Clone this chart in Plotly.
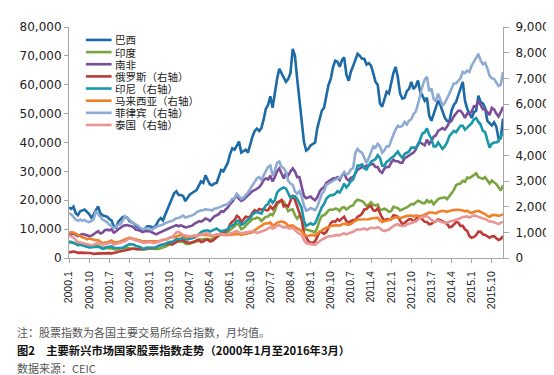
import plotly.graph_objects as go

# ---------------- data (monthly averages, 2000.1 - 2016.3) ----------------
years = list(range(2000, 2017))
tick_labels = ["2000.1", "2000.10", "2001.7", "2002.4", "2003.1", "2003.10", "2004.7",
               "2005.4", "2006.1", "2006.10", "2007.7", "2008.4", "2009.1", "2009.10",
               "2010.7", "2011.4", "2012.1", "2012.10", "2013.7", "2014.4", "2015.1", "2015.10"]

brazil = [
    17500, 17000, 17800, 15500, 14800, 16200, 16500, 16800, 16000, 15200, 14000, 15000,
    16500, 17900, 15500, 14800, 14500, 14300, 13500, 13000, 11000, 10500, 12500, 13300,
    14200, 14000, 14000, 12800, 12500, 12000, 11000, 10600, 9800, 9200, 10300, 11000,
    11000, 10700, 10500, 11500, 13000, 13800, 13000, 15000, 17000, 19000, 21000, 22400,
    23100, 21800, 21800, 21500, 19700, 21000, 22000, 22500, 23000, 23500, 25000, 26500,
    26000, 28600, 27000, 25500, 25200, 25800, 26000, 28000, 30500, 30000, 31500, 33000,
    36000, 38000, 37500, 39000, 40300, 36500, 36900, 37500, 36500, 39500, 42000, 44000,
    44800, 44000, 45000, 48000, 51700, 53000, 56000, 52000, 57600, 62000, 65500, 64000,
    62800, 61000, 62000, 64000, 72400, 70000, 62000, 55000, 48000, 40300, 37200, 37800,
    39000, 39500, 40000, 45000, 48300, 51000, 52000, 56000, 60000, 62000, 66000, 68300,
    68000, 66200, 68500, 69500, 63500, 61400, 64500, 66500, 68500, 70700, 70000, 69000,
    69000, 67000, 67500, 66600, 64000, 61000, 60000, 53500, 52400, 55000, 57600, 57000,
    61000, 64000, 66200, 62500, 57000, 55200, 55500, 57800, 58600, 61000, 58500, 59500,
    61500, 57500, 56200, 54500, 55500, 49300, 47500, 50000, 52800, 54500, 53000, 51000,
    48500, 47500, 47200, 51000, 53000, 54000, 56500, 58500, 61000, 54500, 51700, 50000,
    48500, 50500, 51000, 56200, 54000, 53500, 52000, 47500, 46500, 45900, 47000, 45500,
    41400, 41500, 48300]

india = [
    5300, 5600, 5300, 4800, 4500, 4900, 4800, 4500, 4400, 3900, 3800, 4100,
    4100, 4300, 3800, 3500, 3600, 3400, 3300, 3300, 3000, 2900, 3200, 3300,
    3300, 3500, 3600, 3400, 3300, 3300, 3100, 3000, 3000, 2950, 3000, 3200,
    3300, 3200, 3100, 3000, 3100, 3400, 3600, 4000, 4200, 4700, 5000, 5600,
    5900, 5800, 5600, 5800, 5000, 4800, 5000, 5200, 5500, 5800, 6000, 6400,
    6500, 6600, 6600, 6300, 6500, 6900, 7400, 7700, 8300, 8000, 8500, 9100,
    9700, 10200, 11000, 11900, 11500, 10000, 10300, 11200, 12000, 12700, 13500, 13600,
    14000, 13800, 12800, 13600, 14300, 14400, 15200, 14800, 16300, 18600, 19200, 19900,
    19500, 17800, 16200, 16700, 16800, 14800, 13600, 14700, 13500, 10500, 9800, 9700,
    9500, 9300, 8900, 10500, 13000, 14600, 14800, 15500, 16500, 16800, 16700, 17100,
    17000, 16300, 17400, 17600, 16800, 17400, 18000, 18200, 19500, 20200, 20000, 19700,
    19000, 18000, 18500, 19300, 18400, 18200, 18500, 16700, 16800, 17100, 16700, 16000,
    16200, 17700, 17500, 17300, 16500, 16800, 17200, 17500, 18100, 18700, 18600, 19300,
    19800, 19500, 19000, 19000, 20000, 19300, 19800, 18600, 19700, 20400, 20700, 20900,
    21000, 20400, 21600, 22400, 23500, 25200, 25600, 25800, 26700, 26400, 27900, 27700,
    28200, 28900, 29300, 28000, 27600, 27400, 28000, 27000, 25800, 26800, 26200, 25600,
    24500, 23400, 25200]

south_africa = [
    7900, 8300, 8500, 8000, 7600, 8000, 8300, 8100, 7800, 7600, 7700, 8200,
    8700, 9300, 8500, 8800, 9600, 9800, 9600, 9900, 8800, 9200, 9900, 10600,
    11000, 11300, 11400, 11200, 11000, 10500, 9800, 9700, 9400, 9000, 9300, 9400,
    9300, 8900, 8400, 8200, 8600, 9000, 9400, 9800, 10000, 10400, 10700, 11000,
    11400, 11000, 11300, 11000, 10600, 10700, 11000, 11200, 11800, 12300, 12700, 12600,
    13000, 13700, 13400, 12800, 13600, 14400, 14800, 15200, 16200, 16000, 16800, 17500,
    18700, 19500, 20700, 21500, 20500, 19800, 20200, 21000, 21700, 22300, 23200, 23500,
    24000, 24500, 25500, 27000, 27600, 27200, 28500, 26500, 28000, 30000, 31000, 29000,
    27500, 29500, 28600, 30000, 31000, 30000, 28000, 28000, 25200, 21500, 20700, 21000,
    21300, 20500, 20000, 21000, 23000, 24000, 24500, 26000, 26600, 27000, 27500, 27600,
    28000, 27000, 28600, 29500, 27500, 26800, 27800, 28000, 29500, 30500, 31000, 31500,
    31500, 32000, 32000, 32500, 32500, 31500, 31500, 30000, 29500, 31000, 31500, 31500,
    33000, 34000, 33500, 33500, 33000, 33000, 34500, 35000, 35500, 36000, 36500, 37500,
    39500, 40000, 39500, 39000, 41000, 39500, 40500, 42000, 42500, 44000, 44500, 45000,
    44500, 45500, 47000, 47500, 49000, 50000, 51000, 51000, 50000, 48500, 50000, 50000,
    50700, 52500, 52500, 54500, 53000, 51500, 51500, 50500, 49500, 52000, 51500, 50000,
    49000, 50500, 52400]

russia = [
    220, 240, 250, 230, 200, 210, 210, 220, 215, 195, 185, 160,
    170, 175, 170, 180, 200, 210, 190, 180, 185, 210, 240, 260,
    290, 300, 320, 360, 380, 370, 340, 340, 360, 340, 370, 370,
    380, 400, 380, 420, 480, 510, 520, 550, 540, 600, 520, 570,
    640, 670, 700, 680, 620, 610, 580, 610, 650, 680, 720, 620,
    640, 700, 710, 650, 660, 730, 820, 900, 980, 1010, 1040, 1110,
    1320, 1410, 1480, 1640, 1580, 1390, 1510, 1610, 1590, 1610, 1760, 1860,
    1810, 1910, 1880, 1910, 1860, 1860, 2010, 1910, 2010, 2160, 2210, 2260,
    2010, 2060, 2010, 2210, 2450, 2260, 2010, 1710, 1510, 960, 810, 660,
    590, 590, 650, 810, 1010, 1010, 940, 1010, 1160, 1360, 1430, 1410,
    1510, 1450, 1540, 1610, 1430, 1390, 1440, 1480, 1470, 1610, 1650, 1730,
    1890, 1910, 1990, 2030, 1860, 1840, 1940, 1710, 1560, 1460, 1510, 1490,
    1510, 1660, 1650, 1610, 1440, 1310, 1370, 1440, 1510, 1510, 1410, 1510,
    1610, 1590, 1510, 1410, 1400, 1310, 1330, 1400, 1430, 1500, 1470, 1430,
    1400, 1330, 1200, 1220, 1300, 1400, 1380, 1250, 1250, 1120, 1050, 850,
    790, 820, 890, 1030, 1020, 920, 900, 850, 790, 840, 850, 770,
    700, 740, 860]

indonesia = [
    640, 600, 580, 560, 500, 520, 500, 480, 430, 410, 420, 420,
    430, 440, 410, 360, 380, 430, 440, 450, 400, 390, 380, 390,
    400, 450, 480, 540, 530, 520, 470, 450, 420, 360, 370, 410,
    400, 400, 390, 420, 480, 500, 510, 530, 600, 630, 620, 670,
    730, 740, 740, 800, 720, 720, 740, 760, 800, 840, 930, 1000,
    1050, 1080, 1080, 1030, 1060, 1120, 1150, 1080, 1050, 1060, 1080, 1120,
    1250, 1260, 1320, 1450, 1430, 1300, 1330, 1430, 1500, 1560, 1700, 1760,
    1790, 1760, 1730, 1900, 2050, 2100, 2300, 2150, 2250, 2550, 2650, 2700,
    2750, 2700, 2500, 2350, 2400, 2400, 2300, 2150, 1950, 1450, 1250, 1300,
    1350, 1300, 1350, 1550, 1800, 1980, 2100, 2300, 2400, 2450, 2450, 2500,
    2600, 2550, 2700, 2900, 2750, 2850, 3000, 3050, 3300, 3600, 3600, 3650,
    3500, 3450, 3600, 3750, 3800, 3850, 4000, 3900, 3600, 3600, 3750, 3800,
    3900, 3950, 4050, 4150, 4000, 3900, 4050, 4100, 4150, 4300, 4300, 4300,
    4400, 4650, 4850, 4900, 5050, 4800, 4650, 4350, 4350, 4500, 4350, 4250,
    4350, 4500, 4750, 4850, 4950, 4900, 5050, 5150, 5150, 5000, 5080, 5150,
    5250, 5400, 5450, 5300, 5200, 4950, 4900, 4600, 4300, 4450, 4500, 4500,
    4550, 4750, 4850]

malaysia = [
    980, 1000, 990, 940, 900, 830, 810, 780, 730, 760, 740, 700,
    690, 700, 620, 570, 600, 600, 650, 680, 620, 600, 620, 660,
    690, 710, 760, 790, 770, 740, 710, 700, 670, 650, 650, 650,
    650, 650, 640, 640, 650, 680, 700, 720, 740, 790, 800, 810,
    830, 870, 900, 860, 800, 820, 830, 830, 840, 860, 900, 900,
    920, 920, 910, 870, 860, 880, 920, 910, 920, 910, 890, 900,
    910, 920, 920, 950, 940, 900, 920, 940, 950, 970, 1000, 1080,
    1150, 1200, 1250, 1320, 1350, 1350, 1380, 1270, 1300, 1380, 1400, 1420,
    1400, 1350, 1250, 1250, 1270, 1200, 1150, 1090, 1050, 920, 860, 870,
    880, 900, 870, 950, 1030, 1060, 1140, 1180, 1200, 1250, 1270, 1270,
    1280, 1260, 1310, 1340, 1310, 1290, 1330, 1400, 1450, 1500, 1500, 1500,
    1520, 1510, 1510, 1540, 1540, 1560, 1570, 1460, 1400, 1440, 1460, 1470,
    1520, 1560, 1590, 1580, 1560, 1580, 1620, 1640, 1640, 1660, 1620, 1650,
    1640, 1630, 1650, 1700, 1750, 1770, 1770, 1740, 1740, 1790, 1810, 1840,
    1820, 1800, 1830, 1860, 1870, 1880, 1880, 1870, 1850, 1820, 1840, 1780,
    1760, 1800, 1820, 1840, 1800, 1730, 1710, 1640, 1600, 1670, 1680, 1670,
    1640, 1660, 1700]

philippines = [
    1750, 1700, 1600, 1500, 1450, 1500, 1450, 1480, 1420, 1400, 1440, 1500,
    1820, 1700, 1580, 1500, 1450, 1400, 1300, 1250, 1160, 1200, 1300, 1320,
    1450, 1630, 1560, 1500, 1400, 1350, 1280, 1250, 1160, 1120, 1150, 1160,
    1120, 1100, 1160, 1220, 1250, 1280, 1300, 1360, 1400, 1420, 1440, 1500,
    1550, 1560, 1600, 1650, 1580, 1600, 1630, 1660, 1700, 1780, 1820, 1860,
    1860, 1900, 1880, 1880, 1850, 1920, 1940, 1960, 2000, 2050, 2080, 2100,
    2200, 2300, 2330, 2500, 2400, 2300, 2350, 2450, 2550, 2700, 2850, 3000,
    3100, 3150, 3050, 3220, 3400, 3550, 3600, 3200, 3400, 3700, 3760, 3550,
    3500, 3350, 3000, 2900, 2850, 2600, 2500, 2600, 2400, 2050, 1850, 1880,
    1950, 1900, 1870, 2000, 2300, 2500, 2600, 2850, 2900, 2950, 3000, 3050,
    3100, 3100, 3250, 3350, 3250, 3300, 3450, 3500, 4100, 4250, 4150, 4100,
    3900, 3700, 3900, 4150, 4350, 4300, 4450, 4350, 4100, 4200, 4350, 4350,
    4600, 4800, 5000, 5150, 5100, 5150, 5300, 5200, 5350, 5400, 5600, 5700,
    6000, 6400, 6700, 6950, 7060, 6500, 6600, 6200, 6100, 6400, 6200, 5930,
    6050, 6200, 6400, 6600, 6800, 6800, 6900, 7000, 7250, 7200, 7300, 7250,
    7500, 7650, 7800, 7950, 7700, 7550, 7600, 7400, 7100, 7000, 6980, 6850,
    6700, 6750, 7250]

thailand = [
    880, 850, 800, 700, 620, 600, 580, 560, 540, 520, 500, 520,
    560, 600, 560, 520, 540, 560, 580, 600, 520, 540, 560, 580,
    620, 650, 700, 760, 740, 700, 680, 660, 620, 600, 600, 620,
    620, 600, 580, 600, 620, 660, 700, 720, 740, 800, 820, 880,
    1000, 1020, 960, 900, 880, 860, 850, 860, 880, 860, 880, 900,
    920, 960, 950, 900, 880, 890, 900, 920, 940, 920, 900, 920,
    960, 1000, 1020, 1050, 1000, 960, 980, 1000, 1000, 1020, 1040, 1020,
    980, 1000, 1020, 1060, 1100, 1150, 1200, 1150, 1180, 1260, 1280, 1230,
    1180, 1220, 1160, 1150, 1170, 1100, 1000, 950, 900, 700, 580, 560,
    540, 500, 510, 580, 660, 720, 760, 800, 850, 850, 860, 880,
    900, 880, 940, 960, 920, 960, 980, 1020, 1080, 1120, 1100, 1120,
    1150, 1100, 1130, 1180, 1170, 1160, 1200, 1160, 1080, 1050, 1080, 1100,
    1180, 1250, 1300, 1320, 1260, 1250, 1260, 1300, 1340, 1380, 1400, 1420,
    1500, 1560, 1600, 1620, 1640, 1560, 1500, 1420, 1440, 1460, 1420, 1380,
    1360, 1380, 1420, 1440, 1460, 1480, 1500, 1550, 1600, 1610, 1620, 1580,
    1620, 1660, 1640, 1600, 1560, 1540, 1520, 1460, 1420, 1420, 1400, 1360,
    1320, 1360, 1420]

series_names = ["巴西", "印度", "南非", "俄罗斯（右轴）", "印尼（右轴）",
                "马来西亚（右轴）", "菲律宾（右轴）", "泰国（右轴）"]
series_values = [brazil, india, south_africa, russia, indonesia, malaysia, philippines, thailand]
series_axis = ["y", "y", "y", "y2", "y2", "y2", "y2", "y2"]
series_colors = ["#1c6aa6", "#79a63f", "#7a4e98", "#bf3a37", "#1a97a8",
                 "#f08128", "#8eabd3", "#e79595"]

months = [f"{y}.{m}" for y in years for m in range(1, 13)][:len(brazil)]

# ---------------- figure ----------------
fig = go.Figure()
for name, vals, ax, col in zip(series_names, series_values, series_axis, series_colors):
    fig.add_trace(go.Scatter(x=months, y=vals, name=name, yaxis=ax, mode="lines",
                             line=dict(color=col, width=2.6), showlegend=False))

L, R, T, B = 60, 498, 18, 250
W, H = 554, 375
pw, ph = R - L, B - T

def px(x):
    return (x - L) / pw

def py(y):
    return (B - y) / ph

# custom compact legend
shapes = []
annotations = []
for i, (name, col) in enumerate(zip(series_names, series_colors)):
    yc = 31 + 12.2 * i
    shapes.append(dict(type="line", xref="paper", yref="paper",
                       x0=px(77), x1=px(103), y0=py(yc), y1=py(yc),
                       line=dict(color=col, width=2.6)))
    annotations.append(dict(xref="paper", yref="paper", x=px(105), y=py(yc),
                            text=name, showarrow=False, xanchor="left", yanchor="middle",
                            borderpad=0,
                            font=dict(family="Noto Sans CJK SC", size=10.5, color="#222")))

footer = [
    ("注：股票指数为各国主要交易所综合指数，月均值。", 324, False, "#555", 11),
    ("图2　主要新兴市场国家股票指数走势（2000年1月至2016年3月）", 342, True, "#111", 11.3),
    ("数据来源：CEIC", 360, False, "#555", 11),
]
for txt, yy, bold, col, fs in footer:
    annotations.append(dict(xref="paper", yref="paper", x=px(7), y=py(yy),
                            text=f"<b>{txt}</b>" if bold else txt, showarrow=False,
                            xanchor="left", yanchor="middle", borderpad=0,
                            font=dict(family="Noto Sans CJK SC", size=fs, color=col)))

axis_col = "#a6a6a6"
fig.update_layout(
    width=W, height=H,
    margin=dict(l=L, r=W - R, t=T, b=H - B, pad=0),
    paper_bgcolor="white", plot_bgcolor="white",
    showlegend=False,
    shapes=shapes, annotations=annotations,
    xaxis=dict(type="category", categoryorder="array", categoryarray=months,
               range=[0, len(months) - 1], showgrid=False, zeroline=False,
               showline=True, linecolor=axis_col, linewidth=1,
               ticks="outside", ticklen=4, tickcolor=axis_col, ticklabelstandoff=4,
               tickvals=tick_labels, ticktext=tick_labels, tickangle=-90,
               tickfont=dict(family="Liberation Sans", size=10.5, color="#222")),
    yaxis=dict(range=[0, 80000], dtick=10000, tickformat=",d", showgrid=False,
               zeroline=False, showline=True, linecolor=axis_col, linewidth=1,
               ticks="outside", ticklen=4, tickcolor=axis_col,
               tickfont=dict(family="DejaVu Sans", size=12, color="#222")),
    yaxis2=dict(range=[0, 9000], dtick=1000, tickformat=",d", overlaying="y",
                side="right", showgrid=False, zeroline=False, showline=True,
                linecolor=axis_col, linewidth=1, ticks="outside", ticklen=5,
                tickcolor=axis_col, ticklabelstandoff=4,
                tickfont=dict(family="DejaVu Sans", size=12, color="#222")),
)

fig.write_html("out.html")
